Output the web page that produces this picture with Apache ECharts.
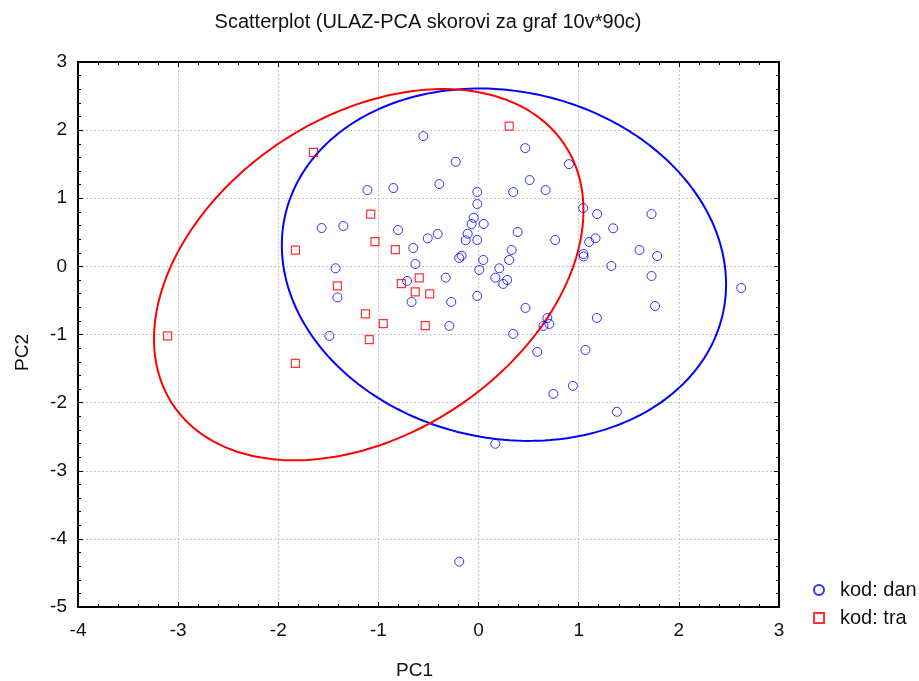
<!DOCTYPE html>
<html>
<head>
<meta charset="utf-8">
<script src="https://cdn.jsdelivr.net/npm/echarts@6/dist/echarts.min.js"></script>
<style>
html,body{margin:0;padding:0;background:#fff;overflow:hidden;}
#chart{width:919px;height:681px;}
</style>
</head>
<body>
<div id="chart"></div>
<script>
// ---- data (PCA scores) ----
const titleText = 'Scatterplot (ULAZ-PCA skorovi za graf 10v*90c)';
const xName = 'PC1';
const yName = 'PC2';
const xTicks = [-4, -3, -2, -1, 0, 1, 2, 3];
const yTicks = [-5, -4, -3, -2, -1, 0, 1, 2, 3];
const seriesNames = ['kod: dan', 'kod: tra'];

const danX = [-0.552, 0.466, -0.228, 0.902, -1.110, -0.851, -0.392, -0.013, 0.346, 0.510,
  0.669, -0.013, 1.045, 1.184, 1.727, -1.567, -1.350, -0.804, -0.049, -0.069,
  0.051, 1.344, -0.508, -0.408, -0.109, -0.129, -0.013, 0.390, 0.765, 1.104,
  1.168, -0.652, 0.330, 1.607, 1.783, 1.047, 1.049, -0.630, -0.193, -0.169,
  0.047, 0.306, 0.007, 0.207, 1.326, 1.727, -0.328, -0.714, 0.167, 0.286,
  0.246, 2.623, -0.669, -0.273, -0.013, 1.763, 0.468, 1.181, 0.687, 0.648,
  0.707, -0.292, 0.346, 0.586, 1.067, 0.942, 0.747, 1.381, 0.167, -0.193,
  -1.428, -1.410, -1.490];
const danY = [1.912, 1.736, 1.535, 1.501, 1.120, 1.150, 1.208, 1.091, 1.091, 1.267,
  1.120, 0.915, 0.856, 0.768, 0.768, 0.563, 0.592, 0.534, 0.714, 0.622,
  0.622, 0.559, 0.412, 0.475, 0.479, 0.383, 0.387, 0.504, 0.387, 0.358,
  0.412, 0.270, 0.240, 0.240, 0.152, 0.182, 0.145, 0.035, 0.123, 0.157,
  0.094, 0.094, -0.053, -0.028, 0.006, -0.141, -0.166, -0.214, -0.166, -0.199,
  -0.258, -0.317, -0.522, -0.522, -0.434, -0.581, -0.610, -0.757, -0.757, -0.874,
  -0.845, -0.874, -0.991, -1.255, -1.226, -1.754, -1.871, -2.135, -2.604, -4.334,
  -0.028, -0.456, -1.021];

const traX = [0.306, -1.649, -1.077, -1.829, -1.034, -0.831, -0.592, -1.410, -0.771,
  -0.632, -0.488, -1.130, -0.951, -0.532, -1.091, -3.106, -1.829];
const traY = [2.059, 1.672, 0.768, 0.240, 0.362, 0.245, -0.170, -0.287, -0.254,
  -0.375, -0.405, -0.698, -0.840, -0.870, -1.075, -1.021, -1.424];

// ---- 95% prediction ellipse computed from the group's data ----
function predictionEllipse(xs, ys) {
  const n = xs.length;
  let mx = 0, my = 0;
  for (let i = 0; i < n; i++) { mx += xs[i]; my += ys[i]; }
  mx /= n; my /= n;
  let sxx = 0, syy = 0, sxy = 0;
  for (let i = 0; i < n; i++) {
    const dx = xs[i] - mx, dy = ys[i] - my;
    sxx += dx * dx; syy += dy * dy; sxy += dx * dy;
  }
  sxx /= (n - 1); syy /= (n - 1); sxy /= (n - 1);
  const nu = n - 2;
  const F = nu / 2 * (Math.pow(0.05, -2 / nu) - 1);
  const r = Math.sqrt(2 * (n + 1) * (n - 1) / (n * (n - 2)) * F);
  const l11 = Math.sqrt(sxx), l21 = sxy / l11, l22 = Math.sqrt(syy - l21 * l21);
  const pts = [];
  const steps = 240;
  for (let k = 0; k <= steps; k++) {
    const t = 2 * Math.PI * k / steps;
    const c = Math.cos(t), s = Math.sin(t);
    pts.push([mx + r * l11 * c, my + r * (l21 * c + l22 * s)]);
  }
  return pts;
}

const zip = (a, b) => a.map((v, i) => [v, b[i]]);

const BLUE = '#0000ff';
const RED = '#ff0000';
const FONT = 'Liberation Sans, Arial, sans-serif';

const chart = echarts.init(document.getElementById('chart'), null, {renderer: 'canvas', width: 919, height: 681});

const gridLine = {show: true, lineStyle: {color: '#c4c4c4', width: 1, type: [2, 2]}};
const axisLineStyle = {show: true, onZero: false, lineStyle: {color: '#000', width: 2}};
const tick = {show: true, inside: true, length: 5, lineStyle: {color: '#000', width: 1}};
const minor = {show: true, splitNumber: 5, length: 3, lineStyle: {color: '#000', width: 1}};

chart.setOption({
  animation: false,
  backgroundColor: '#fff',
  title: {
    text: titleText,
    left: 428, top: 12, padding: 0, textAlign: 'center',
    textStyle: {fontFamily: FONT, fontSize: 20, fontWeight: 'normal', color: '#111'}
  },
  grid: {left: 78, top: 62, width: 701, height: 545, containLabel: false, outerBoundsMode: 'none'},
  legend: {
    left: 813, top: 580, padding: 0, orient: 'vertical', itemGap: 8,
    itemWidth: 10, itemHeight: 10,
    data: seriesNames,
    textStyle: {fontFamily: FONT, fontSize: 20, color: '#111', padding: [0, 0, 0, 11]}
  },
  xAxis: [{
    type: 'value', min: xTicks[0], max: xTicks[xTicks.length - 1], interval: 1,
    position: 'bottom',
    name: xName, nameLocation: 'middle', nameGap: 54,
    nameTextStyle: {fontFamily: FONT, fontSize: 19, color: '#111', padding: [0, 28, 0, 0]},
    axisLine: axisLineStyle, axisTick: tick, minorTick: minor,
    splitLine: gridLine,
    axisLabel: {fontFamily: FONT, fontSize: 19, color: '#111', margin: 14}
  }, {
    type: 'value', min: xTicks[0], max: xTicks[xTicks.length - 1], interval: 1,
    position: 'top', axisLine: axisLineStyle, axisTick: tick, minorTick: minor,
    splitLine: {show: false}, axisLabel: {show: false}
  }],
  yAxis: [{
    type: 'value', min: yTicks[0], max: yTicks[yTicks.length - 1], interval: 1,
    position: 'left',
    name: yName, nameLocation: 'middle', nameGap: 46, nameRotate: 90,
    nameTextStyle: {fontFamily: FONT, fontSize: 19, color: '#111', padding: [0, 36, 0, 0]},
    axisLine: axisLineStyle, axisTick: tick, minorTick: minor,
    splitLine: gridLine,
    axisLabel: {fontFamily: FONT, fontSize: 19, color: '#111', margin: 11}
  }, {
    type: 'value', min: yTicks[0], max: yTicks[yTicks.length - 1], interval: 1,
    position: 'right', axisLine: axisLineStyle, axisTick: tick, minorTick: minor,
    splitLine: {show: false}, axisLabel: {show: false}
  }],
  series: [
    {
      name: seriesNames[0], type: 'scatter', data: zip(danX, danY),
      symbol: 'circle', symbolSize: 9, z: 5,
      itemStyle: {color: 'rgba(255,255,255,0)', borderColor: BLUE, borderWidth: 1}
    },
    {
      name: seriesNames[1], type: 'scatter', data: zip(traX, traY),
      symbol: 'rect', symbolSize: 8, z: 5,
      itemStyle: {color: 'rgba(255,255,255,0)', borderColor: RED, borderWidth: 1.2}
    },
    {
      name: 'ellipse-dan', type: 'line', data: predictionEllipse(danX, danY),
      showSymbol: false, symbol: 'none', smooth: false, z: 3,
      lineStyle: {color: BLUE, width: 2}, silent: true
    },
    {
      name: 'ellipse-tra', type: 'line', data: predictionEllipse(traX, traY),
      showSymbol: false, symbol: 'none', smooth: false, z: 3,
      lineStyle: {color: RED, width: 2}, silent: true
    }
  ]
});
</script>
</body>
</html>
